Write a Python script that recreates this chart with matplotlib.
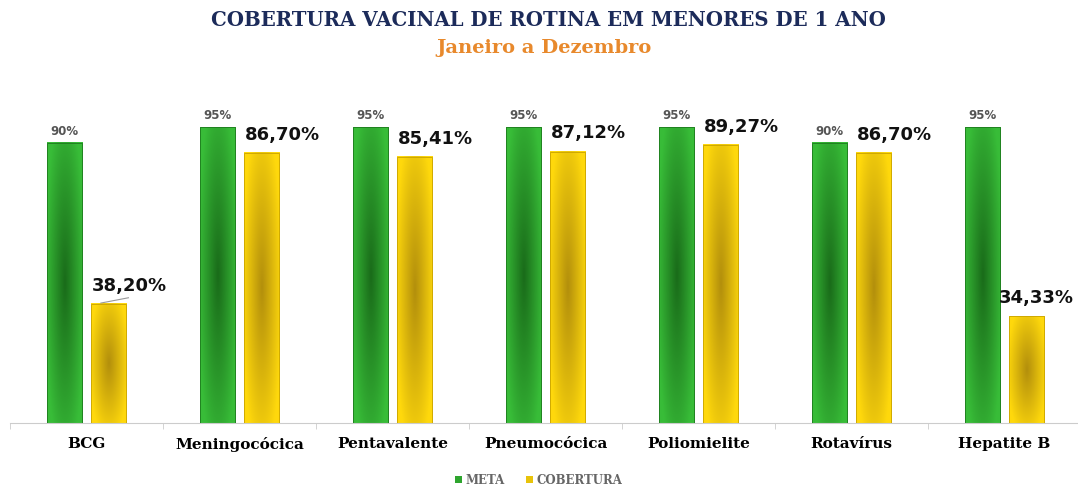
import numpy as np
import matplotlib.pyplot as plt
from matplotlib.patches import Patch

# dados
categorias = ['BCG', 'Meningocócica', 'Pentavalente', 'Pneumocócica',
              'Poliomielite', 'Rotavírus', 'Hepatite B']
meta = [90, 95, 95, 95, 95, 90, 95]
cobertura = [38.20, 86.70, 85.41, 87.12, 89.27, 86.70, 34.33]
meta_labels = ['90%', '95%', '95%', '95%', '95%', '90%', '95%']
cob_labels = ['38,20%', '86,70%', '85,41%', '87,12%', '89,27%', '86,70%', '34,33%']

fig = plt.figure(figsize=(10.78, 4.86), dpi=100)
ax = fig.add_axes([10 / 1078, 1 - 423 / 486, 1071 / 1078, 324 / 486])

x = np.arange(len(categorias))
w = 0.229
off = 0.144


def gradiente(edge, mid):
    # brilho nas bordas, escuro no centro (efeito bisel)
    nx, ny = 60, 120
    gx = np.abs(np.linspace(-1, 1, nx))
    gy = np.abs(np.linspace(-1, 1, ny))
    t = np.clip(1 - np.sqrt(gx[None, :] ** 2 * 0.8 + gy[:, None] ** 2 * 0.6), 0, 1)
    edge = np.array(edge)
    mid = np.array(mid)
    return edge[None, None, :] * (1 - t[..., None]) + mid[None, None, :] * t[..., None]


verde = gradiente((0.22, 0.74, 0.22), (0.10, 0.42, 0.10))
amarelo = gradiente((1.0, 0.85, 0.05), (0.70, 0.56, 0.05))

b1 = ax.bar(x - off, meta, w, color='none', edgecolor='none')
b2 = ax.bar(x + off, cobertura, w, color='none', edgecolor='none')

for bars, img, ec in [(b1, verde, '#1d7a1d'), (b2, amarelo, '#c9a300')]:
    for p in bars:
        x0, y0 = p.get_x(), p.get_y()
        ax.imshow(img, extent=[x0, x0 + p.get_width(), y0, y0 + p.get_height()],
                  aspect='auto', zorder=2, interpolation='bilinear')
        ax.add_patch(plt.Rectangle((x0, y0), p.get_width(), p.get_height(),
                                   fill=False, edgecolor=ec, lw=0.6, zorder=3))

x_max = len(categorias) - 0.5 - 0.29
for i in range(len(categorias)):
    ax.text(x[i] - off, meta[i] + 1.6, meta_labels[i], ha='center', va='bottom',
            fontsize=8.5, fontweight='bold', color='#555555', family='DejaVu Sans')
    ax.text(min(x[i] + off + 0.135, x_max), cobertura[i] + 3.0, cob_labels[i],
            ha='center', va='bottom', fontsize=13, fontweight='bold', color='#111111',
            family='DejaVu Sans')

# linha guia BCG
ax.plot([x[0] + off - 0.05, x[0] + off + 0.13], [cobertura[0] + 0.3, cobertura[0] + 2.0],
        color='#999999', lw=0.8, zorder=4)

ax.set_xlim(-0.5, len(categorias) - 0.5)
ax.set_ylim(0, 104)
ax.set_yticks([])
for s in ['left', 'right', 'top']:
    ax.spines[s].set_visible(False)
ax.spines['bottom'].set_color('#cccccc')
ax.set_xticks(x)
ax.set_xticklabels(categorias, fontsize=11, fontweight='bold', family='DejaVu Serif')
ax.tick_params(axis='x', length=0, pad=10)
ax.set_xticks(np.arange(len(categorias) + 1) - 0.5, minor=True)
ax.tick_params(axis='x', which='minor', length=4, color='#cccccc')

fig.text(0.509, 0.958, 'COBERTURA VACINAL DE ROTINA EM MENORES DE 1 ANO', ha='center',
         va='center', fontsize=14.2, fontweight='heavy', color='#1c2b5a', family='DejaVu Serif')
fig.text(0.505, 0.902, 'Janeiro a Dezembro', ha='center', va='center', fontsize=14,
         fontweight='heavy', color='#e8892c', family='DejaVu Serif')

handles = [Patch(facecolor='#2ea52e', edgecolor='none', label='META'),
           Patch(facecolor='#e8c30a', edgecolor='none', label='COBERTURA')]
leg = fig.legend(handles=handles, loc='center', bbox_to_anchor=(0.5, 0.012), ncol=2,
                 frameon=False, handlelength=0.6, handleheight=0.6,
                 handletextpad=0.3, columnspacing=1.8,
                 prop={'family': 'DejaVu Serif', 'weight': 'bold', 'size': 8.5})
for t in leg.get_texts():
    t.set_color('#666666')

fig.savefig('out.png', dpi=100)
